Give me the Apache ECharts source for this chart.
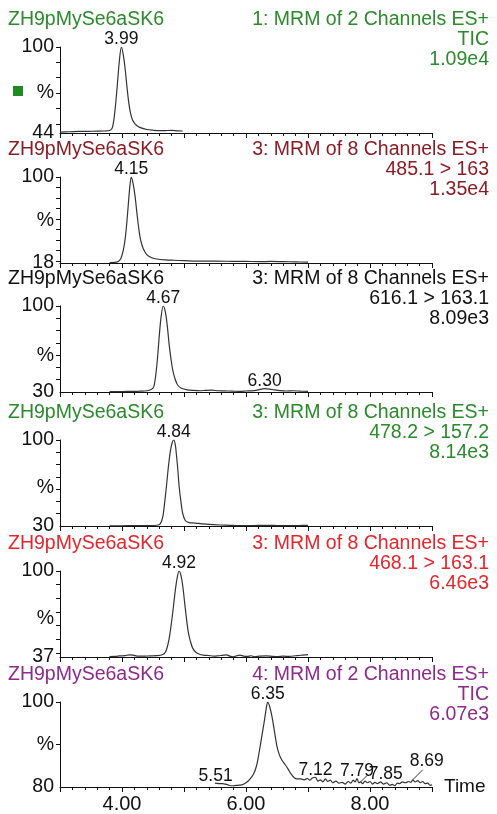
<!DOCTYPE html>
<html>
<head>
<meta charset="utf-8">
<script src="https://cdn.jsdelivr.net/npm/echarts@6/dist/echarts.min.js"></script>
<style>
  html, body { margin: 0; padding: 0; background: #fff; }
  #chart { width: 497px; height: 814px; }
</style>
</head>
<body>
<div id="chart"></div>
<script>
/* MRM chromatograms, one panel per channel: [time (min), relative intensity (%)] */

const trace1 = [
  [3.00, 44.6], [3.15, 44.8], [3.30, 45.0], [3.45, 45.1], [3.60, 45.2], [3.72, 45.3],
  [3.80, 45.6], [3.84, 47.0], [3.87, 53.0], [3.90, 64.0], [3.93, 78.0], [3.96, 92.0],
  [3.99, 100], [4.02, 95.0], [4.05, 86.0], [4.08, 74.0], [4.11, 63.5], [4.14, 56.5],
  [4.17, 52.5], [4.21, 50.0], [4.26, 48.3], [4.32, 47.2], [4.40, 46.3], [4.50, 45.8],
  [4.60, 45.5], [4.70, 45.6], [4.80, 45.7], [4.90, 45.4], [4.98, 45.3]
];
const trace2 = [
  [3.80, 18.5], [3.88, 18.6], [3.94, 19.5], [3.98, 22.0], [4.02, 30.0], [4.05, 40.5],
  [4.08, 58.0], [4.11, 80.0], [4.13, 93.0], [4.15, 100], [4.18, 93.5], [4.21, 82.0],
  [4.24, 66.0], [4.27, 51.0], [4.30, 40.0], [4.34, 32.0], [4.40, 26.0], [4.48, 23.0],
  [4.56, 21.8], [4.70, 21.0], [4.83, 20.6], [5.00, 20.2], [5.26, 19.7], [5.50, 19.8],
  [5.80, 19.6], [6.00, 19.5], [6.23, 19.3], [6.40, 19.5], [6.60, 19.3], [6.80, 19.1],
  [7.00, 18.8]
];
const trace3 = [
  [3.80, 30.3], [4.00, 30.4], [4.18, 30.5], [4.30, 30.7], [4.40, 31.0], [4.47, 32.0],
  [4.51, 34.0], [4.54, 42.0], [4.57, 56.0], [4.60, 75.0], [4.63, 91.0], [4.665, 100],
  [4.70, 95.0], [4.73, 84.0], [4.76, 69.0], [4.79, 57.0], [4.82, 47.5], [4.86, 40.0],
  [4.90, 35.5], [4.96, 33.0], [5.05, 31.8], [5.15, 31.3], [5.26, 31.0], [5.35, 31.4],
  [5.45, 31.5], [5.55, 31.0], [5.65, 30.9], [5.78, 30.7], [5.90, 30.5], [6.00, 30.8],
  [6.12, 31.1], [6.20, 31.8], [6.30, 32.7], [6.38, 32.4], [6.45, 31.8], [6.55, 31.1],
  [6.65, 30.8], [6.76, 31.0], [6.88, 30.7], [7.00, 30.5]
];
const trace4 = [
  [3.80, 30.1], [4.00, 30.2], [4.18, 30.3], [4.40, 30.4], [4.56, 30.6], [4.62, 32.0],
  [4.66, 38.0], [4.69, 50.0], [4.72, 64.0], [4.75, 79.0], [4.78, 91.0], [4.81, 98.0],
  [4.835, 100], [4.86, 96.0], [4.88, 87.0], [4.90, 76.0], [4.92, 63.0], [4.95, 50.0],
  [4.98, 40.0], [5.02, 34.5], [5.08, 32.8], [5.18, 32.4], [5.26, 32.0], [5.40, 31.3],
  [5.58, 30.8], [5.75, 30.5], [5.90, 30.3], [6.10, 30.4], [6.33, 30.5], [6.50, 30.4],
  [6.65, 30.3], [6.85, 30.4], [7.00, 30.5]
];
const trace5 = [
  [3.80, 37.3], [3.90, 37.4], [3.96, 37.8], [4.05, 38.0], [4.12, 38.6], [4.18, 38.4],
  [4.26, 37.6], [4.34, 37.6], [4.45, 37.8], [4.56, 38.0], [4.65, 38.6], [4.70, 40.5],
  [4.74, 46.0], [4.77, 53.0], [4.80, 63.0], [4.83, 74.0], [4.86, 86.0], [4.89, 95.0],
  [4.92, 100], [4.95, 97.0], [4.98, 89.0], [5.01, 77.0], [5.04, 65.0], [5.07, 55.0],
  [5.10, 49.0], [5.14, 43.5], [5.19, 40.5], [5.25, 39.0], [5.31, 38.4], [5.40, 38.1],
  [5.48, 37.7], [5.55, 37.9], [5.62, 38.2], [5.69, 38.5], [5.74, 37.6], [5.80, 37.2],
  [5.85, 37.9], [5.90, 38.4], [5.96, 37.7], [6.02, 37.4], [6.08, 37.9], [6.14, 37.2],
  [6.22, 37.6], [6.33, 37.8], [6.42, 37.5], [6.50, 37.3], [6.60, 37.6], [6.70, 37.4],
  [6.80, 37.9], [6.88, 38.3], [6.95, 38.5], [7.00, 38.8]
];
const trace6 = [
  [5.50, 80.9], [5.56, 80.8], [5.62, 80.8], [5.69, 80.6], [5.75, 80.3], [5.80, 80.3],
  [5.87, 80.4], [5.93, 80.5], [6.00, 81.0], [6.06, 81.8], [6.12, 83.0], [6.17, 85.0],
  [6.21, 88.0], [6.25, 91.5], [6.29, 95.0], [6.33, 98.8], [6.35, 100], [6.38, 99.0],
  [6.42, 96.5], [6.46, 93.0], [6.50, 89.5], [6.54, 87.5], [6.58, 86.3], [6.63, 85.3],
  [6.68, 84.2], [6.72, 83.2], [6.77, 82.3], [6.82, 81.9], [6.88, 81.9], [6.94, 81.7],
  [6.99, 82.0], [7.03, 81.6], [7.07, 82.1], [7.12, 82.3], [7.16, 81.4], [7.20, 81.7],
  [7.24, 81.2], [7.28, 81.9], [7.32, 81.3], [7.36, 81.6], [7.40, 81.0], [7.45, 81.4],
  [7.50, 80.9], [7.55, 81.1], [7.60, 80.7], [7.65, 81.3], [7.69, 80.9], [7.73, 81.6],
  [7.76, 81.2], [7.79, 82.0], [7.82, 81.0], [7.85, 81.2], [7.88, 80.8], [7.92, 81.4],
  [7.96, 81.0], [8.00, 81.3], [8.04, 80.7], [8.08, 81.1], [8.12, 80.8], [8.17, 81.2],
  [8.22, 80.7], [8.27, 81.0], [8.32, 80.4], [8.36, 80.6], [8.40, 80.3], [8.44, 80.9],
  [8.48, 80.8], [8.52, 81.2], [8.57, 81.0], [8.62, 81.3], [8.66, 81.1], [8.69, 81.7],
  [8.73, 81.2], [8.77, 81.5], [8.81, 81.0], [8.85, 81.3], [8.89, 80.8], [8.93, 80.9],
  [8.97, 80.4], [9.00, 80.5]
];

// labelled peaks: [time, intensity, label]
const peaks1 = [[3.99, 100, '3.99']];
const peaks2 = [[4.15, 100, '4.15']];
const peaks3 = [[4.665, 100, '4.67'], [6.30, 32.7, '6.30']];
const peaks4 = [[4.835, 100, '4.84']];
const peaks5 = [[4.92, 100, '4.92']];
const peaks6 = [
  [6.35, 100, '6.35'], [5.51, 80.9, '5.51'], [7.12, 82.3, '7.12'],
  [7.79, 82.0, '7.79'], [7.85, 81.2, '7.85'], [8.69, 81.7, '8.69']
];

const sampleName = 'ZH9pMySe6aSK6';
const channelHeaders = [
  ['1: MRM of 2 Channels ES+', 'TIC', '1.09e4'],
  ['3: MRM of 8 Channels ES+', '485.1 > 163', '1.35e4'],
  ['3: MRM of 8 Channels ES+', '616.1 > 163.1', '8.09e3'],
  ['3: MRM of 8 Channels ES+', '478.2 > 157.2', '8.14e3'],
  ['3: MRM of 8 Channels ES+', '468.1 > 163.1', '6.46e3'],
  ['4: MRM of 2 Channels ES+', 'TIC', '6.07e3']
];
const yMins = [44, 18, 30, 30, 37, 80];
const percentAt = [70, 58, 60, 61, 65, 90];
const xLabelValues = [4, 6, 8];

const traces = [trace1, trace2, trace3, trace4, trace5, trace6];
const peaks = [peaks1, peaks2, peaks3, peaks4, peaks5, peaks6];

// layout / style
const panelTops = [47, 177, 306, 440, 571, 702];
const panelHeight = 86;
const panelColors = ['#2b8a2b', '#8c1c24', '#111111', '#2b8a2b', '#e8242c', '#8e2a8e'];
// labels drawn off the peak with a short leader: [leader dx, leader dy, text anchor]
const leaderShift = { '7.85': [7, -7, 'left'], '8.69': [10, -10, 'center'] };
const fontFamily = '"Liberation Sans", Arial, Helvetica, sans-serif';
const ink = '#111';

const grids = [], xAxes = [], yAxes = [], series = [], graphics = [];

panelTops.forEach((top, i) => {
  const last = i === panelTops.length - 1;
  grids.push({ left: 60, right: 65, top, height: panelHeight });

  xAxes.push({
    type: 'value', gridIndex: i, min: 3, max: 9, interval: 1,
    axisLine: { show: true, onZero: false, lineStyle: { color: ink, width: 1 } },
    axisTick: { show: true, length: 5, lineStyle: { color: ink } },
    minorTick: { show: true, splitNumber: 5, length: 3, lineStyle: { color: ink } },
    splitLine: { show: false },
    axisLabel: {
      show: last, margin: 7, fontSize: 20, color: ink, fontFamily,
      formatter: (v) => (xLabelValues.includes(v) ? v.toFixed(2) : '')
    },
    name: last ? 'Time' : '',
    nameLocation: 'end', nameGap: 12,
    nameTextStyle: { fontSize: 19, color: ink, fontFamily, verticalAlign: 'middle' }
  });

  const ticks = [];
  for (let v = Math.ceil(yMins[i] / 10) * 10; v <= 100; v += 10) if (v > yMins[i]) ticks.push(v);
  yAxes.push({
    type: 'value', gridIndex: i, min: yMins[i], max: 100,
    axisLine: { show: true, lineStyle: { color: ink, width: 1 } },
    axisTick: { show: true, length: 4, customValues: ticks, lineStyle: { color: ink } },
    splitLine: { show: false },
    axisLabel: {
      show: true, margin: 6, fontSize: 19.5, color: ink, fontFamily,
      customValues: [yMins[i], percentAt[i], 100],
      formatter: (v) => (v === percentAt[i] ? '%' : String(v))
    }
  });

  series.push({
    type: 'line', xAxisIndex: i, yAxisIndex: i, data: traces[i],
    showSymbol: false, symbol: 'none', smooth: 0.3, silent: true,
    lineStyle: { color: '#333', width: 1.2 }
  });

  const plain = peaks[i].filter((p) => !leaderShift[p[2]]);
  const led = peaks[i].filter((p) => leaderShift[p[2]]);

  series.push({
    type: 'scatter', xAxisIndex: i, yAxisIndex: i, symbolSize: 1, silent: true,
    itemStyle: { color: 'rgba(0,0,0,0)', opacity: 1 },
    data: plain.map((p) => ({ value: [p[0], p[1]], name: p[2] })),
    label: {
      show: true, position: 'top', distance: -2, formatter: '{b}',
      fontSize: 17.5, color: ink, fontFamily
    }
  });

  if (led.length) {
    series.push({
      type: 'custom', xAxisIndex: i, yAxisIndex: i, silent: true,
      data: led.map((p) => [p[0], p[1]]),
      renderItem: (params, api) => {
        const pt = api.coord([api.value(0), api.value(1)]);
        const [dx, dy, anchor] = leaderShift[led[params.dataIndex][2]];
        const ex = pt[0] + dx, ey = pt[1] + dy;
        const tx = anchor === 'left' ? ex + 1 : ex + 4;
        const ty = anchor === 'left' ? ey - 1 : ey;
        return {
          type: 'group',
          children: [
            { type: 'line', shape: { x1: pt[0], y1: pt[1], x2: ex, y2: ey },
              style: { stroke: '#333', lineWidth: 1 } },
            { type: 'text', x: tx, y: ty,
              style: { text: led[params.dataIndex][2], fill: ink, fontSize: 17.5, fontFamily,
                       align: anchor, verticalAlign: anchor === 'left' ? 'middle' : 'bottom' } }
          ]
        };
      }
    });
  }

  const color = panelColors[i];
  graphics.push({
    type: 'text', x: 8, y: top - 27,
    style: { text: sampleName, fill: color, fontSize: 19.5, fontFamily, verticalAlign: 'middle' }
  });
  channelHeaders[i].forEach((line, k) => {
    graphics.push({
      type: 'text', x: 489, y: top - 27 + k * 20,
      style: { text: line, fill: color, fontSize: 19.5, fontFamily, align: 'right', verticalAlign: 'middle' }
    });
  });
});

// legend swatch of the first trace
graphics.push({ type: 'rect', shape: { x: 13, y: 86, width: 10, height: 10 }, style: { fill: '#1f8a1f' } });

const chart = echarts.init(document.getElementById('chart'));
chart.setOption({
  animation: false,
  backgroundColor: '#fff',
  grid: grids,
  xAxis: xAxes,
  yAxis: yAxes,
  series,
  graphic: graphics
});
</script>
</body>
</html>
